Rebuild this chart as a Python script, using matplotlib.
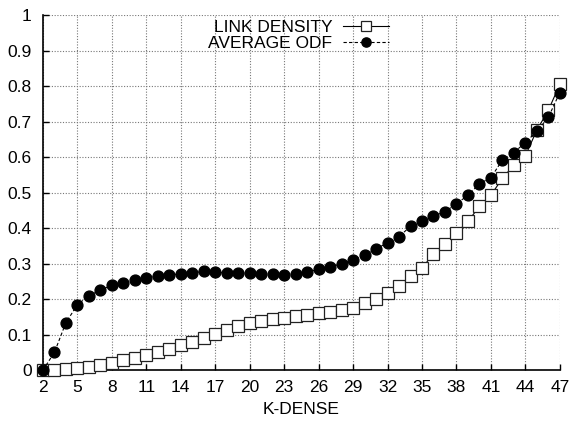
import matplotlib
matplotlib.use('Agg')
import matplotlib.pyplot as plt

plt.rcParams['font.family'] = ['Liberation Sans', 'DejaVu Sans']

# K-dense levels
k_dense = list(range(2, 48))

link_density = [
    0.000, 0.000, 0.003, 0.006, 0.010, 0.015, 0.021, 0.028, 0.035, 0.043,
    0.051, 0.060, 0.070, 0.080, 0.090, 0.102, 0.114, 0.125, 0.132, 0.138,
    0.143, 0.148, 0.152, 0.156, 0.160, 0.163, 0.168, 0.176, 0.189, 0.200,
    0.218, 0.236, 0.266, 0.288, 0.327, 0.355, 0.386, 0.419, 0.461, 0.493,
    0.540, 0.578, 0.604, 0.676, 0.732, 0.805,
]

average_odf = [
    0.000, 0.050, 0.134, 0.184, 0.210, 0.225, 0.239, 0.246, 0.253, 0.260,
    0.265, 0.268, 0.271, 0.274, 0.278, 0.275, 0.274, 0.273, 0.273, 0.271,
    0.271, 0.269, 0.271, 0.276, 0.284, 0.290, 0.300, 0.310, 0.324, 0.342,
    0.358, 0.376, 0.405, 0.420, 0.434, 0.446, 0.469, 0.492, 0.525, 0.542,
    0.592, 0.613, 0.641, 0.673, 0.712, 0.782,
]

x_ticks = list(range(2, 48, 3))
y_ticks = [0, 0.1, 0.2, 0.3, 0.4, 0.5, 0.6, 0.7, 0.8, 0.9, 1.0]
y_tick_labels = ['0', '0.1', '0.2', '0.3', '0.4', '0.5', '0.6', '0.7',
                 '0.8', '0.9', '1']

fig = plt.figure(figsize=(5.73, 4.21), dpi=100)
ax = fig.add_axes([0.075, 0.121, 0.902, 0.843])

ax.plot(k_dense, link_density, color='black', linewidth=0.8,
        marker='s', markersize=8.8, markerfacecolor='white',
        markeredgecolor='#222222', markeredgewidth=0.9,
        label='LINK DENSITY', zorder=3, clip_on=False)
ax.plot(k_dense, average_odf, color='black', linewidth=0.8,
        linestyle=(0, (3, 2)), marker='o', markersize=7.8,
        markerfacecolor='black', markeredgecolor='black',
        label='AVERAGE ODF', zorder=4, clip_on=False)

ax.set_xlim(2, 47)
ax.set_ylim(0, 1)
ax.set_xticks(x_ticks)
ax.set_yticks(y_ticks)
ax.set_yticklabels(y_tick_labels)
ax.set_xlabel('K-DENSE', fontsize=12.5, labelpad=5)

ax.grid(True, linestyle=(0, (1, 1.5)), linewidth=0.8, color='#777777')
ax.spines['top'].set_visible(False)
ax.spines['right'].set_visible(False)
ax.spines['left'].set_linewidth(1.2)
ax.spines['bottom'].set_linewidth(1.2)
ax.tick_params(direction='in', length=4, width=1, labelsize=12.5,
               top=False, right=False)
ax.tick_params(axis='x', pad=7)
ax.tick_params(axis='y', pad=8)

ax.legend(loc='upper center', bbox_to_anchor=(0.495, 1.01), frameon=False,
          markerfirst=False, fontsize=12.5, handlelength=2.7,
          handletextpad=0.6, labelspacing=0.02, borderaxespad=0.1,
          markerscale=0.85)

fig.savefig('out.png', dpi=100)
